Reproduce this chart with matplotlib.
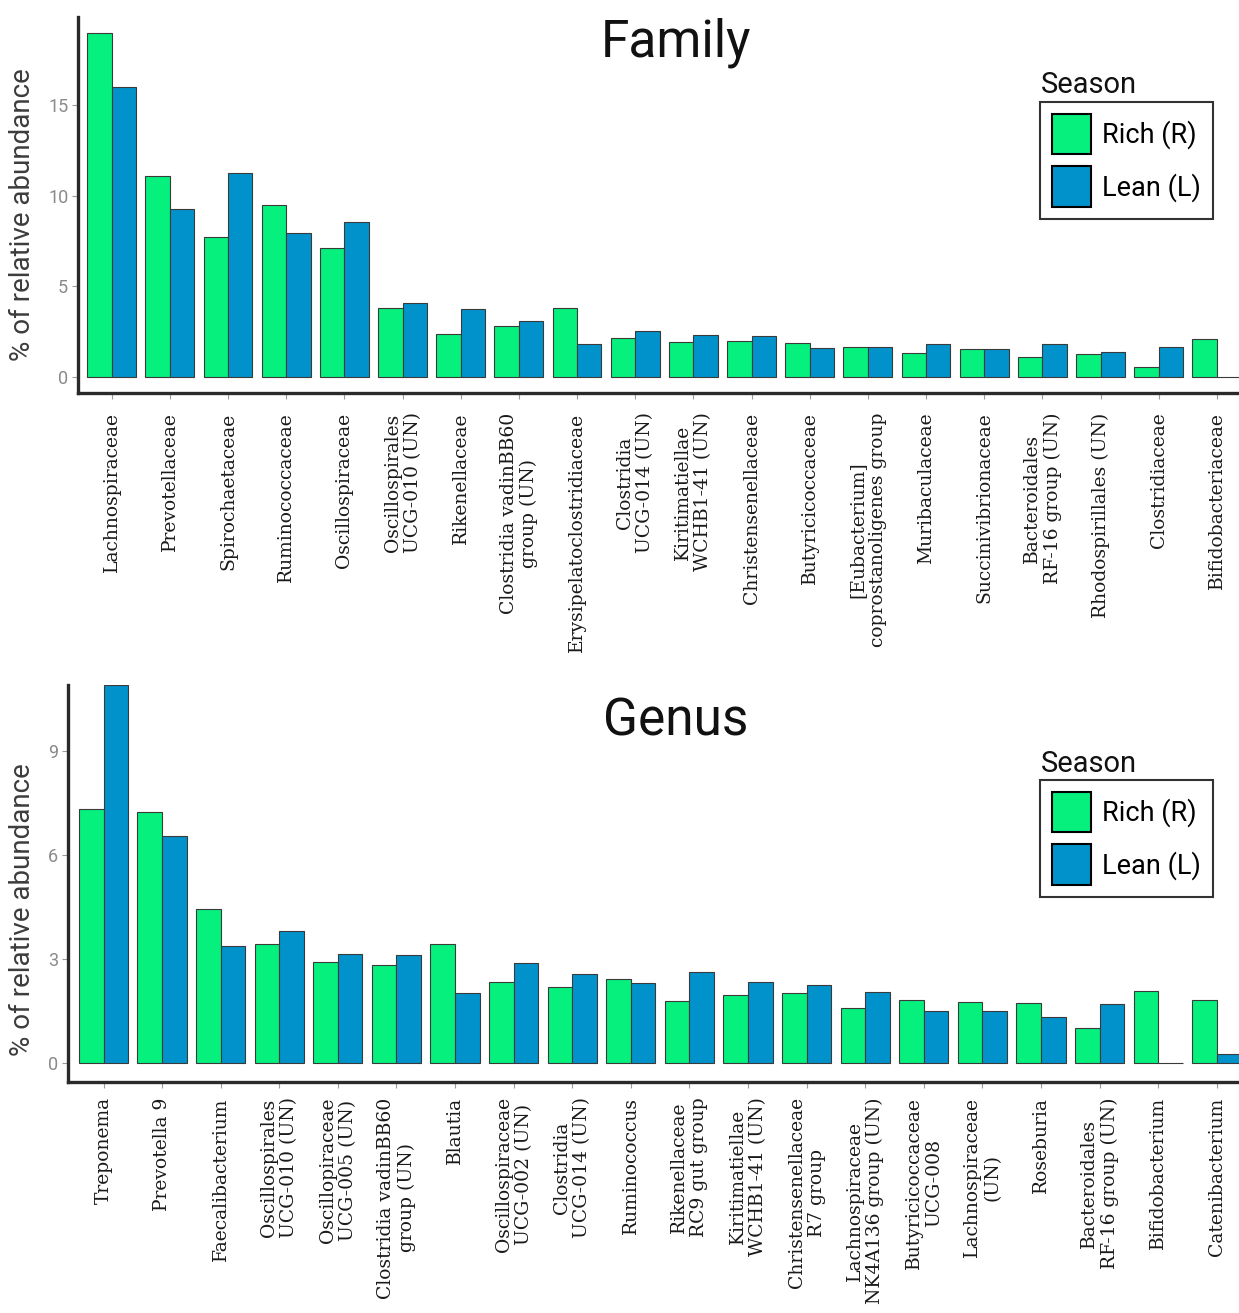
import matplotlib
matplotlib.use("Agg")
import matplotlib.pyplot as plt
from matplotlib.patches import Patch

# ---------------- data ----------------
family_labels = [
    "Lachnospiraceae", "Prevotellaceae", "Spirochaetaceae", "Ruminococcaceae",
    "Oscillospiraceae", "Oscillospirales\nUCG-010 (UN)", "Rikenellaceae",
    "Clostridia vadinBB60\ngroup (UN)", "Erysipelatoclostridiaceae",
    "Clostridia\nUCG-014 (UN)", "Kiritimatiellae\nWCHB1-41 (UN)",
    "Christensenellaceae", "Butyricicoccaceae",
    "[Eubacterium]\ncoprostanoligenes group", "Muribaculaceae",
    "Succinivibrionaceae", "Bacteroidales\nRF-16 group (UN)",
    "Rhodospirillales (UN)", "Clostridiaceae", "Bifidobacteriaceae",
]
family_rich = [19.0, 11.1, 7.7, 9.5, 7.1, 3.8, 2.37, 2.8, 3.8, 2.15,
               1.94, 2.0, 1.9, 1.66, 1.33, 1.55, 1.1, 1.27, 0.55, 2.08]
family_lean = [16.0, 9.27, 11.25, 7.95, 8.55, 4.07, 3.75, 3.1, 1.8, 2.54,
               2.3, 2.26, 1.6, 1.66, 1.8, 1.52, 1.8, 1.36, 1.67, 0.0]

genus_labels = [
    "Treponema", "Prevotella 9", "Faecalibacterium",
    "Oscillospirales\nUCG-010 (UN)", "Oscillopiraceae\nUCG-005 (UN)",
    "Clostridia vadinBB60\ngroup (UN)", "Blautia",
    "Oscillospiraceae\nUCG-002 (UN)", "Clostridia\nUCG-014 (UN)",
    "Ruminococcus", "Rikenellaceae\nRC9 gut group",
    "Kiritimatiellae\nWCHB1-41 (UN)", "Christensenellaceae\nR7 group",
    "Lachnospiraceae\nNK4A136 group (UN)", "Butyricicoccaceae\nUCG-008",
    "Lachnospiraceae\n(UN)", "Roseburia", "Bacteroidales\nRF-16 group (UN)",
    "Bifidobacterium", "Catenibacterium",
]
genus_rich = [7.32, 7.23, 4.44, 3.43, 2.91, 2.82, 3.43, 2.33, 2.19, 2.42,
              1.79, 1.96, 2.01, 1.58, 1.82, 1.76, 1.72, 1.0, 2.07, 1.81]
genus_lean = [10.9, 6.54, 3.37, 3.8, 3.14, 3.11, 2.02, 2.88, 2.57, 2.3,
              2.62, 2.33, 2.25, 2.05, 1.5, 1.5, 1.33, 1.7, 0.0, 0.26]

season_labels = ["Rich (R)", "Lean (L)"]
family_yticks = [0, 5, 10, 15]
genus_yticks = [0, 3, 6, 9]

# ---------------- style ----------------
W, H = 1239, 1313
GREEN = "#06F07D"
BLUE = "#0192CB"
EDGE = "#3a3a3a"
SANS = ["Roboto", "DejaVu Sans"]
SERIF = ["DejaVu Serif"]

fig = plt.figure(figsize=(W / 100, H / 100), dpi=100)


def fx(px):
    return px / W


def fy(py):
    return 1 - py / H


def make_panel(left, top, bottom, xlim, ylim, labels, rich, lean, yticks,
               title, title_y, legend_top, season_y, ylabel_y, xpad):
    ax = fig.add_axes([fx(left), fy(bottom), 1 - fx(left), fy(top) - fy(bottom)])
    x = list(range(len(labels)))
    w = 0.42
    ax.bar([i - w / 2 for i in x], rich, width=w, color=GREEN,
           edgecolor=EDGE, linewidth=0.8)
    ax.bar([i + w / 2 for i in x], lean, width=w, color=BLUE,
           edgecolor=EDGE, linewidth=0.8)
    ax.set_xlim(*xlim)
    ax.set_ylim(*ylim)
    ax.set_xticks(x)
    ax.set_xticklabels(labels, rotation=90, ha="center", va="top",
                       family=SERIF, fontsize=13.5, color="#1a1a1a",
                       multialignment="center", linespacing=1.15)
    ax.set_yticks(yticks)
    ax.set_yticklabels([str(t) for t in yticks], family=SANS,
                       fontsize=13, color="#8a8a8a")
    ax.tick_params(axis="x", length=4, width=0.8, color="#9a9a9a", pad=xpad)
    ax.tick_params(axis="y", length=4, width=0.8, color="#9a9a9a", pad=3)
    for s in ["top", "right"]:
        ax.spines[s].set_visible(False)
    for s in ["left", "bottom"]:
        ax.spines[s].set_linewidth(2.4)
        ax.spines[s].set_color("#2a2a2a")
    ax.set_facecolor("white")

    fig.text(fx(676), fy(title_y), title, family=SANS, fontsize=37,
             ha="center", va="baseline", color="#111111")
    fig.text(fx(23), fy(ylabel_y), "% of relative abundance", family=SANS,
             fontsize=20, rotation=90, ha="center", va="center",
             color="#3c3c3c")

    handles = [Patch(facecolor=GREEN, edgecolor="black", linewidth=1.5),
               Patch(facecolor=BLUE, edgecolor="black", linewidth=1.5)]
    leg = fig.legend(handles, season_labels, loc="upper left",
                     bbox_to_anchor=(fx(1040), fy(legend_top)),
                     bbox_transform=fig.transFigure, borderaxespad=0,
                     frameon=True, fancybox=False,
                     handlelength=1.45, handleheight=1.9,
                     handletextpad=0.38, labelspacing=0.45,
                     borderpad=0.45, prop={"family": SANS, "size": 19.5})
    leg.get_frame().set_edgecolor("black")
    leg.get_frame().set_linewidth(1.5)
    fig.text(fx(1041), fy(season_y), "Season", family=SANS, fontsize=21,
             ha="left", va="baseline", color="#111111")
    return ax


# Family panel: y=0 at 377 px, 18.13 px/unit
make_panel(left=78, top=17, bottom=393, xlim=(-0.58, 19.38),
           ylim=(-0.88, 19.86), labels=family_labels, rich=family_rich,
           lean=family_lean, yticks=family_yticks, title="Family",
           title_y=57, legend_top=102, season_y=93, ylabel_y=215, xpad=10)

# Genus panel: y=0 at 1063 px, 34.6 px/unit
make_panel(left=68, top=685, bottom=1082, xlim=(-0.606, 19.38),
           ylim=(-0.55, 10.9), labels=genus_labels, rich=genus_rich,
           lean=genus_lean, yticks=genus_yticks, title="Genus",
           title_y=735, legend_top=780, season_y=772, ylabel_y=910, xpad=7)

fig.savefig("out.png", dpi=100, facecolor="white")
